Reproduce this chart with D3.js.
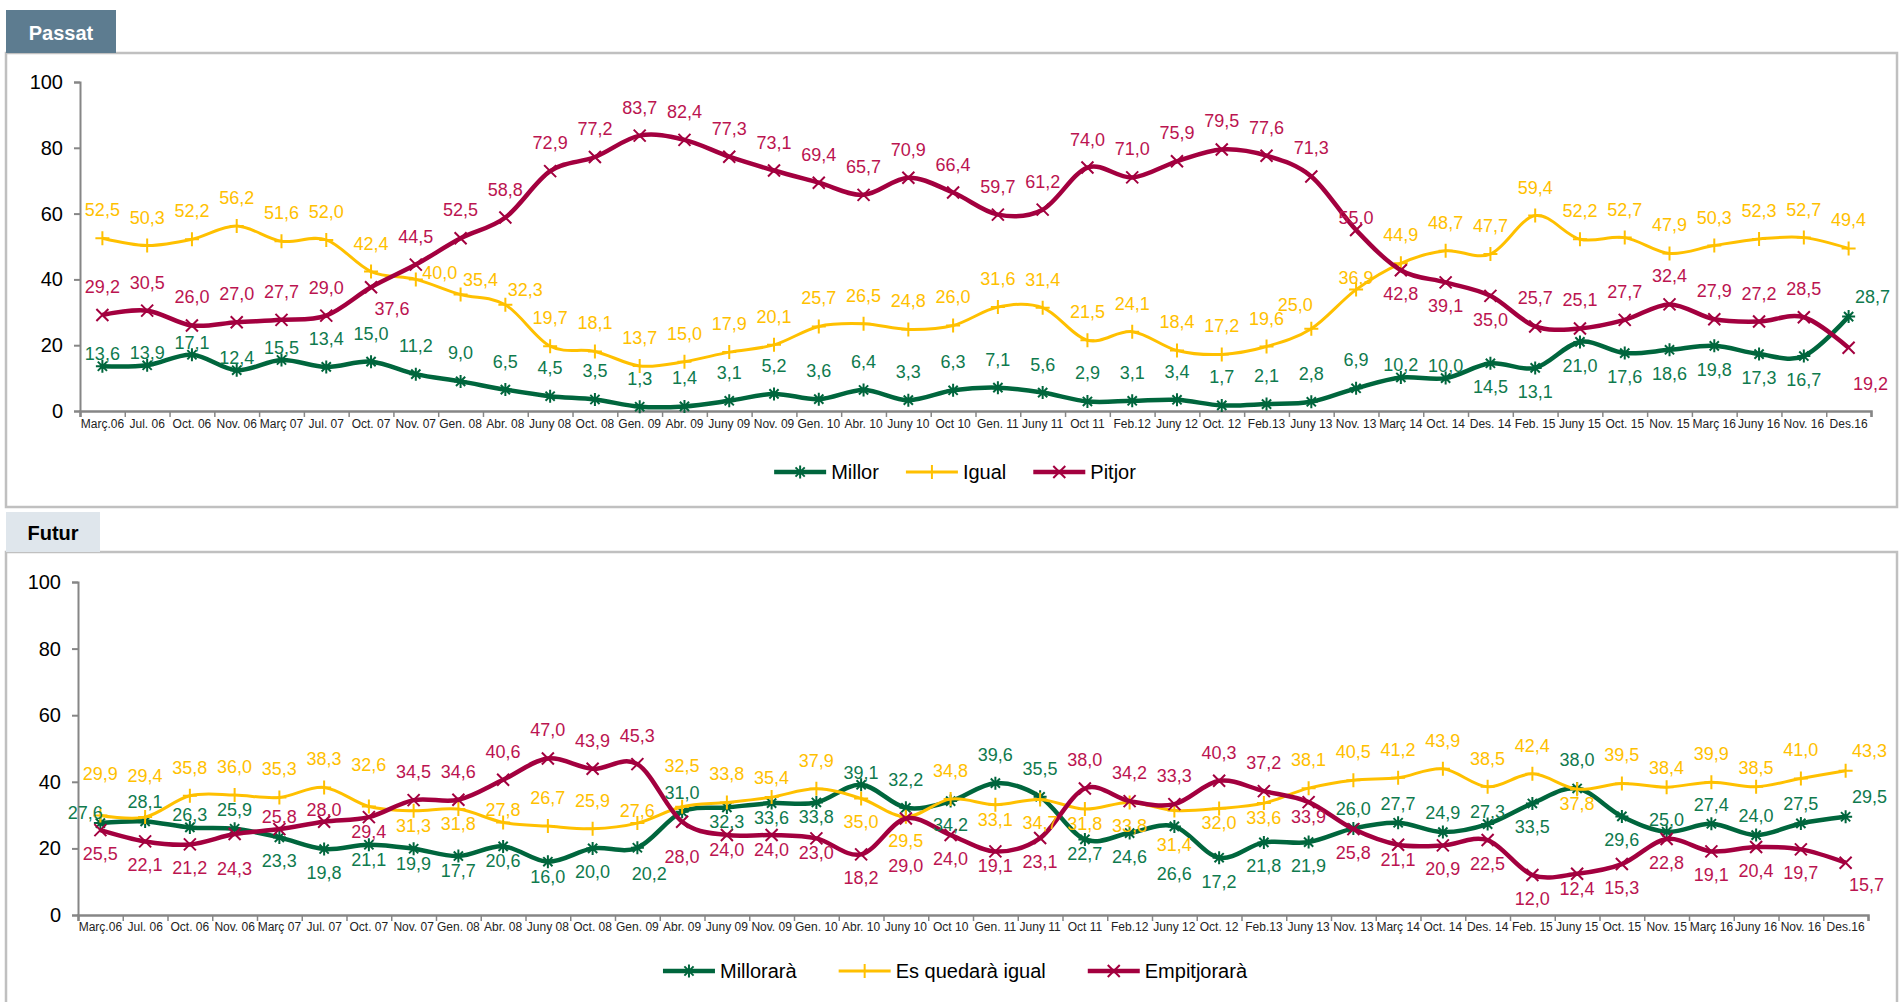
<!DOCTYPE html>
<html><head><meta charset="utf-8">
<script src="https://cdn.jsdelivr.net/npm/d3@7"></script>
<style>
body{margin:0;background:#fff;}
svg{display:block;font-family:"Liberation Sans",Arial,sans-serif;}
</style></head><body>
<svg id="c" width="1902" height="1002"></svg>
<script>
// ---------- DATA ----------
const categories = ["Març.06","Jul. 06","Oct. 06","Nov. 06","Març 07","Jul. 07","Oct. 07","Nov. 07","Gen. 08","Abr. 08",
  "Juny 08","Oct. 08","Gen. 09","Abr. 09","Juny 09","Nov. 09","Gen. 10","Abr. 10","Juny 10","Oct 10",
  "Gen. 11","Juny 11","Oct 11","Feb.12","Juny 12","Oct. 12","Feb.13","Juny 13","Nov. 13","Març 14",
  "Oct. 14","Des. 14","Feb. 15","Juny 15","Oct. 15","Nov. 15","Març 16","Juny 16","Nov. 16","Des.16"];

const passatMillor = [13.6,13.9,17.1,12.4,15.5,13.4,15.0,11.2,9.0,6.5,4.5,3.5,1.3,1.4,3.1,5.2,3.6,6.4,3.3,6.3,
  7.1,5.6,2.9,3.1,3.4,1.7,2.1,2.8,6.9,10.2,10.0,14.5,13.1,21.0,17.6,18.6,19.8,17.3,16.7,28.7];
const passatIgual = [52.5,50.3,52.2,56.2,51.6,52.0,42.4,40.0,35.4,32.3,19.7,18.1,13.7,15.0,17.9,20.1,25.7,26.5,24.8,26.0,
  31.6,31.4,21.5,24.1,18.4,17.2,19.6,25.0,36.9,44.9,48.7,47.7,59.4,52.2,52.7,47.9,50.3,52.3,52.7,49.4];
const passatPitjor = [29.2,30.5,26.0,27.0,27.7,29.0,37.6,44.5,52.5,58.8,72.9,77.2,83.7,82.4,77.3,73.1,69.4,65.7,70.9,66.4,
  59.7,61.2,74.0,71.0,75.9,79.5,77.6,71.3,55.0,42.8,39.1,35.0,25.7,25.1,27.7,32.4,27.9,27.2,28.5,19.2];

const futurMillorara = [27.6,28.1,26.3,25.9,23.3,19.8,21.1,19.9,17.7,20.6,16.0,20.0,20.2,31.0,32.3,33.6,33.8,39.1,32.2,34.2,
  39.6,35.5,22.7,24.6,26.6,17.2,21.8,21.9,26.0,27.7,24.9,27.3,33.5,38.0,29.6,25.0,27.4,24.0,27.5,29.5];
const futurIgual = [29.9,29.4,35.8,36.0,35.3,38.3,32.6,31.3,31.8,27.8,26.7,25.9,27.6,32.5,33.8,35.4,37.9,35.0,29.5,34.8,
  33.1,34.7,31.8,33.8,31.4,32.0,33.6,38.1,40.5,41.2,43.9,38.5,42.4,37.8,39.5,38.4,39.9,38.5,41.0,43.3];
const futurEmpitjorara = [25.5,22.1,21.2,24.3,25.8,28.0,29.4,34.5,34.6,40.6,47.0,43.9,45.3,28.0,24.0,24.0,23.0,18.2,29.0,24.0,
  19.1,23.1,38.0,34.2,33.3,40.3,37.2,33.9,25.8,21.1,20.9,22.5,12.0,12.4,15.3,22.8,19.1,20.4,19.7,15.7];

const yTicks = [0,20,40,60,80,100];

// ---------- LABEL PLACEMENT (style codes, one per point) ----------
const placeCodes = {
  a:[0,-28], h:[0,-19], n:[0,-12], A:[0,-41], b:[0,24], m:[0,15], v:[0,35], B:[0,48],
  l:[-15,-10], r:[24,-6], q:[20,-15], p:[-16,-24], e:[24,-20], c:[21,22], d:[22,36], k:[12,26]
};
const placePassatMillor = "nnnnn" + "aaaaaaaaaaaaaaaaaaaaaaaa" + "nn" + "bbbbbbbb" + "e";
const placePassatIgual  = "aaaaaaa" + "rqq" + "aaaaaaaaaaaaaaaaa" + "pn" + "aaaaaaaaaaa";
const placePassatPitjor = "aaaaaa" + "c" + "aaaaaaaaaaaaaaaaaaaaa" + "n" + "bbb" + "aaaaaaa" + "d";
const placeFuturMillorara    = "lhnhbbmmmmmbkhmmmnabaambBbbbhhhnbabnhhhe";
const placeFuturIgual        = "AAaaaaAmmnaanAahabbambmbvmmaaaaaamahahae";
const placeFuturEmpitjorara  = "bbbvnnmaaaaaavmmmbBbmbaaaaambmbbbmbbbbbc";

// ---------- STYLE ----------
const GREEN = "#00663d", GREEN_L = "#0f7a4e";
const YELLOW = "#ffc000", YELLOW_L = "#ffc000";
const RED = "#a3003f", RED_L = "#bb1450";

const markerPaths = {
  star: "M-6.5,0H6.5M0,-6.5V6.5M-4.6,-4.6L4.6,4.6M-4.6,4.6L4.6,-4.6",
  plus: "M-7,0H7M0,-7V7",
  cross:"M-6,-6L6,6M-6,6L6,-6"
};

const panels = [
  { tab:"Passat", tabBox:[6,10,110,43], tabFill:"#5d7c90", tabColor:"#ffffff",
    box:[6,53,1891,454], x0:80, x1:1871, y0:411, y1:82, xLabelY:424, legendY:472, legendGap:27,
    series:[
      {name:"Millor", values:passatMillor, place:placePassatMillor, color:GREEN, lc:GREEN_L, w:4.5, marker:"star"},
      {name:"Igual",  values:passatIgual,  place:placePassatIgual,  color:YELLOW, lc:YELLOW_L, w:3, marker:"plus"},
      {name:"Pitjor", values:passatPitjor, place:placePassatPitjor, color:RED, lc:RED_L, w:4.5, marker:"cross"}
    ]},
  { tab:"Futur", tabBox:[6,512,94,40], tabFill:"#dfe6ec", tabColor:"#000000",
    box:[6,552,1891,470], x0:78, x1:1868, y0:915, y1:582, xLabelY:927, legendY:971, legendGap:42,
    series:[
      {name:"Millorarà", values:futurMillorara, place:placeFuturMillorara, color:GREEN, lc:GREEN_L, w:4.5, marker:"star"},
      {name:"Es quedarà igual", values:futurIgual, place:placeFuturIgual, color:YELLOW, lc:YELLOW_L, w:3, marker:"plus"},
      {name:"Empitjorarà", values:futurEmpitjorara, place:placeFuturEmpitjorara, color:RED, lc:RED_L, w:4.5, marker:"cross"}
    ]}
];

const svg = d3.select("#c");
const fmt = v => d3.format(".1f")(v).replace(".", ",");

panels.forEach(P => {
  const g = svg.append("g");
  g.append("rect").attr("x",P.box[0]).attr("y",P.box[1]).attr("width",P.box[2]).attr("height",P.box[3])
    .attr("fill","#fff").attr("stroke","#c0c0c0").attr("stroke-width",2.5);
  g.append("rect").attr("x",P.tabBox[0]).attr("y",P.tabBox[1]).attr("width",P.tabBox[2]).attr("height",P.tabBox[3])
    .attr("fill",P.tabFill);
  g.append("text").attr("x",P.tabBox[0]+P.tabBox[2]/2).attr("y",P.tabBox[1]+P.tabBox[3]/2+1)
    .attr("text-anchor","middle").attr("dominant-baseline","central")
    .attr("font-size",20).attr("font-weight","bold").attr("fill",P.tabColor).text(P.tab);

  const x = d3.scaleBand().domain(categories).range([P.x0,P.x1]);
  const xi = d3.scaleLinear().domain([0,categories.length]).range([P.x0,P.x1]);
  const y = d3.scaleLinear().domain([0,100]).range([P.y0,P.y1]);
  const cx = c => x(c) + x.bandwidth()/2;

  const ya = g.append("g").attr("transform",`translate(${P.x0},0)`)
    .call(d3.axisLeft(y).tickValues(yTicks).tickSize(6).tickPadding(11).tickFormat(d3.format("d")));
  ya.select(".domain").attr("stroke","#868686").attr("stroke-width",2);
  ya.selectAll(".tick line").attr("stroke","#868686").attr("stroke-width",2);
  ya.selectAll(".tick text").attr("font-size",20).attr("fill","#000").attr("font-family","Liberation Sans, Arial, sans-serif");

  const xt = g.append("g").attr("transform",`translate(0,${P.y0})`)
    .call(d3.axisBottom(xi).tickValues(d3.range(categories.length+1)).tickSize(6).tickFormat(""));
  xt.select(".domain").attr("stroke","#868686").attr("stroke-width",2.5);
  xt.selectAll(".tick line").attr("stroke","#868686").attr("stroke-width",1.5);
  const xl = g.append("g").attr("transform",`translate(0,${P.y0})`)
    .call(d3.axisBottom(x).tickSize(0).tickPadding(0));
  xl.select(".domain").remove();
  xl.selectAll(".tick text").attr("y",P.xLabelY-P.y0).attr("dy",null).attr("dominant-baseline","central")
    .attr("font-size",12).attr("fill","#222")
    .attr("font-family","'Liberation Sans Narrow','Arial Narrow','Liberation Sans',sans-serif");

  const line = d3.line().x((d,i)=>cx(categories[i])).y(d=>y(d)).curve(d3.curveCardinal.tension(0));

  P.series.forEach(s => {
    g.append("path").datum(s.values).attr("d",line).attr("fill","none")
      .attr("stroke",s.color).attr("stroke-width",s.w).attr("stroke-linejoin","round");
    g.append("g").selectAll("path").data(s.values).join("path")
      .attr("transform",(d,i)=>`translate(${cx(categories[i])},${y(d)})`)
      .attr("d",markerPaths[s.marker]).attr("stroke",s.color).attr("stroke-width",2).attr("fill","none");
  });
  P.series.forEach(s => {
    g.append("g").selectAll("text").data(s.values).join("text")
      .attr("x",(d,i)=>cx(categories[i]) + placeCodes[s.place[i]][0])
      .attr("y",(d,i)=>y(d) + placeCodes[s.place[i]][1])
      .attr("text-anchor","middle").attr("dominant-baseline","central")
      .attr("font-size",18).attr("fill",s.lc).text(d=>fmt(d));
  });

  const lg = g.append("g");
  const items = P.series.map(s => {
    const it = lg.append("g");
    it.append("line").attr("x1",0).attr("x2",52).attr("y1",0).attr("y2",0)
      .attr("stroke",s.color).attr("stroke-width",s.w);
    it.append("path").attr("transform","translate(26,0)").attr("d",markerPaths[s.marker])
      .attr("stroke",s.color).attr("stroke-width",2).attr("fill","none");
    const t = it.append("text").attr("x",57).attr("y",0).attr("dominant-baseline","central")
      .attr("font-size",20).attr("fill","#000").text(s.name);
    return {it, w: 57 + t.node().getComputedTextLength()};
  });
  const total = d3.sum(items, d=>d.w) + P.legendGap*(items.length-1);
  let lx = 955 - total/2;
  items.forEach(d => { d.it.attr("transform",`translate(${lx},${P.legendY})`); lx += d.w + P.legendGap; });
});
</script>
</body></html>
